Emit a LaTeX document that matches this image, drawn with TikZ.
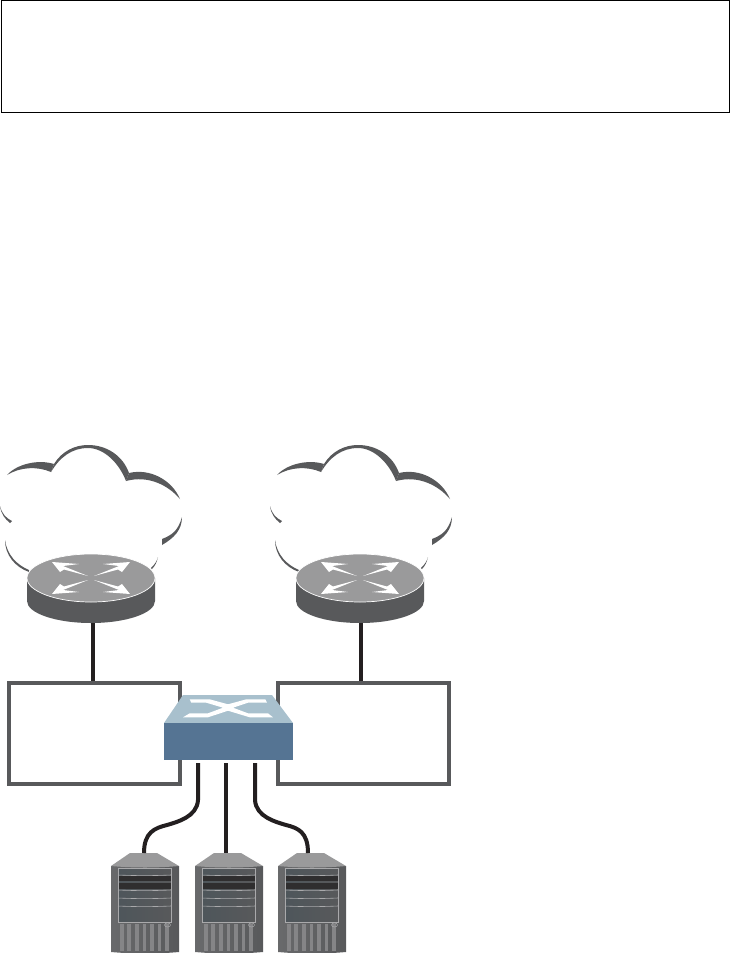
\documentclass[tikz,border=0pt]{standalone}
\usepackage{xcolor}
\usetikzlibrary{positioning,calc}
\definecolor{mGray}{HTML}{58595B}
\definecolor{mRouterTop}{HTML}{9A9A9B}
\definecolor{mFront}{HTML}{557493}
\definecolor{mLid}{HTML}{A8C0CD}
\definecolor{mCable}{HTML}{231F20}
\definecolor{mBand}{HTML}{2F2E2F}
\definecolor{mVent}{HTML}{858587}
\definecolor{mBezel}{HTML}{4E565B}
\definecolor{mRule}{HTML}{A9A9AB}
\tikzset{
  frame/.style={draw=black, line width=0.8pt, minimum width=728pt, minimum height=112pt, inner sep=0pt},
  netbox/.style={draw=mGray, line width=4pt, minimum width=171pt, minimum height=101pt, inner sep=0pt},
  cable/.style={draw=mCable, line width=4pt},
  crescent/.style={fill=mGray, draw=none},
  cloudback/.pic={
    \fill[crescent] (7,475) .. controls (17,464) and (38,459) .. (54,464) -- (51,472) .. controls (37,466) and (20,467) .. cycle;
    \fill[crescent] (51,472) -- (54,464) .. controls (62,451) and (75,445) .. (88,445) .. controls (107,445) and (123,456) .. (129,473) -- (126,481) .. controls (119,463) and (104,448) .. (88,448) .. controls (72,448) and (60,457) .. cycle;
    \fill[crescent] (126,481) -- (129,473) .. controls (150,468) and (172,480) .. (180,499) .. controls (168,485) and (148,475) .. cycle;
    \fill[crescent] (182,517) .. controls (178,531) and (172,535) .. (162,539) -- (162,545) .. controls (174,538) and (182,530) .. cycle;
    \fill[crescent] (0,506) .. controls (2,514) and (6,518) .. (12,521) -- (10,523) .. controls (5,519) and (1,514) .. cycle;
    \fill[crescent] (5,540) .. controls (5,555) and (15,567) .. (29,572) -- (29,570) .. controls (17,565) and (7,555) .. cycle;
    \fill[crescent] (151,568) .. controls (155,564) and (157,561) .. (158,557) .. controls (157,562) and (155,566) .. (152,569) -- cycle;
  },
  routerunit/.pic={
    \fill[mGray] (-64,0) -- (-64,23) arc[start angle=180, end angle=0, x radius=64, y radius=22] -- (64,0) -- cycle;
    \fill[mRouterTop, draw=white, line width=0.7pt] (0,0) ellipse[x radius=64, y radius=24];
    \foreach \sx in {-1,1} \foreach \sy in {-1,1}
      \fill[white, xscale=\sx, yscale=\sy] (3,2) -- (28,12) -- (12,14) -- (39,16) -- (31,6) -- (27,8.5) -- cycle;
    \coordinate (-base) at (0,45);
  },
  serverunit/.pic={
    \shade[left color=mGray!90!white, right color=mGray] (0,13) -- (68,13) -- (68,99) .. controls (46,101) and (22,101) .. (0,99) -- cycle;
    \fill[mRouterTop] (19,0) -- (46,0) -- (68,13) .. controls (46,15) and (22,15) .. (0,13) -- cycle;
    \shade[left color=mBezel, right color=mGray] (7,15) rectangle (60,69);
    \fill[mBand] (7,23) rectangle (60,28);
    \fill[mBand] (7,29.7) rectangle (60,35.7);
    \draw[mRule, line width=0.6pt] (7,15) rectangle (60,69);
    \foreach \yy in {22,37,45,53} \draw[mRule, line width=0.6pt] (7,\yy) .. controls (25,\yy+0.8) and (42,\yy+0.8) .. (60,\yy);
    \foreach \xx in {9,16.3,24,31.5,39,46.7,54} \fill[mVent] (\xx,71) rectangle ++(3.7,27);
    \draw[mRule, line width=0.5pt] (56.5,72) ellipse[x radius=3, y radius=2];
    \coordinate (-top) at (33,0);
  }
}
\begin{document}
\begin{tikzpicture}[x=1pt, y=-1pt]
\useasboundingbox (0,0) rectangle (730,953);
\node[frame] (note) at (365,56) {};
% clouds and routers
\pic {cloudback};
\pic[xshift=270pt] {cloudback};
\pic (routerA) at (91,578) {routerunit};
\pic (routerB) at (360,578) {routerunit};
% boxes
\node[netbox] (boxA) at (94.5,733.5) {};
\node[netbox] (boxB) at (363.5,733.5) {};
\draw[cable] (routerA-base) ++(2,0) coordinate (upA) -- (upA |- boxA.north);
\draw[cable] (routerB-base) ++(1,0) coordinate (upB) -- (upB |- boxB.north);
% switch
\fill[mLid] (164,723) -- (183,695) -- (272,695) -- (293,723) -- cycle;
\fill[white] (189.7,699.3) -- (209.7,699.3) -- (228,704.3) -- (246.3,699.3) -- (265.3,699.3) -- (267,702.7) -- (248,702.7) -- (233,707.7) -- (248,713.3) -- (268,713.3) -- (273,717.3) -- (249.7,717.3) -- (228,710.7) -- (208,717.3) -- (183,717.3) -- (189.7,713.3) -- (208,713.3) -- (223,707.7) -- (206.3,702.7) -- (191.3,702.7) -- cycle;
\node[fill=mFront, minimum width=129pt, minimum height=37pt, inner sep=0pt] (switch) at (228.5,741.5) {};
% servers
\pic (serverA) at (111,853) {serverunit};
\pic (serverB) at (195,853) {serverunit};
\pic (serverC) at (278,853) {serverunit};
\coordinate (portA) at (198,763);
\coordinate (portB) at (226,763);
\coordinate (portC) at (255,763);
\draw[cable] (portA) -- (198,800) .. controls (197,817) and (177,822) .. (167,825) .. controls (155,828) and (144,832) .. (144,853);
\draw[cable] (portB) -- (portB |- serverB-top);
\draw[cable] (portC) -- (255,800) .. controls (256,817) and (276,822) .. (286,825) .. controls (298,828) and (308,832) .. (308,853);
\end{tikzpicture}
\end{document}
